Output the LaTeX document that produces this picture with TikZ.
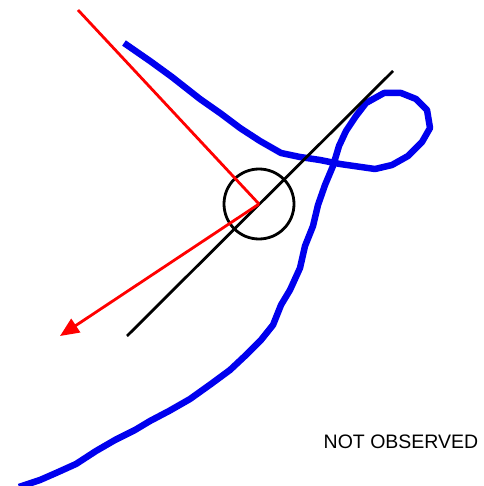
\documentclass[tikz,border=0pt]{standalone}
\usepackage{fontspec}
\setsansfont{Liberation Sans}
\usetikzlibrary{arrows.meta}
\definecolor{track}{HTML}{0000EE}

\begin{document}
\begin{tikzpicture}[
  x=1pt, y=-1pt,
  axis/.style  = {black, line width=2.8pt},
  ray/.style   = {red, line width=2.8pt},
  path/.style  = {track, line width=6.5pt, line join=round},
  lbl/.style   = {font=\sffamily\fontsize{19.5}{19.5}\selectfont, inner sep=0pt},
]
  \useasboundingbox (0,0) rectangle (483,486);

  \coordinate (c)  at (259,204);
  \coordinate (rt) at (78,10);
  \coordinate (ar) at (60,336);
  \coordinate (l1) at (127,336);
  \coordinate (l2) at (393,71);

  % trajectory
  \draw[path] (124,43) -- (150,61) -- (172,77) -- (200,99) -- (220,113)
    -- (240,128) -- (260,141) -- (281,153) -- (300,157) -- (320,160)
    -- (340,164) -- (375,169) -- (392,165) -- (408,156) -- (422,142)
    -- (430,128) -- (427,110) -- (416,99) -- (401,93) -- (384,93)
    -- (366,103) -- (356,116) -- (346,131) -- (339,146) -- (333,166)
    -- (325,185) -- (318,205) -- (313,226) -- (305,246) -- (300,268)
    -- (290,290) -- (281,305) -- (273,325) -- (261,340) -- (246,355)
    -- (230,370) -- (211,384) -- (190,399) -- (169,411) -- (150,421)
    -- (135,430) -- (115,440) -- (96,451) -- (76,464) -- (56,473)
    -- (40,480) -- (19,487);

  % orientation
  \draw[axis] (l1) -- (l2);
  \draw[axis] (c) circle (35);
  \draw[ray] (rt) -- (c);
  \draw[ray, -{Triangle[length=19pt,width=16pt]}] (c) -- (ar);

  \node[lbl] (obs) at (401,442) {NOT OBSERVED};
\end{tikzpicture}
\end{document}
